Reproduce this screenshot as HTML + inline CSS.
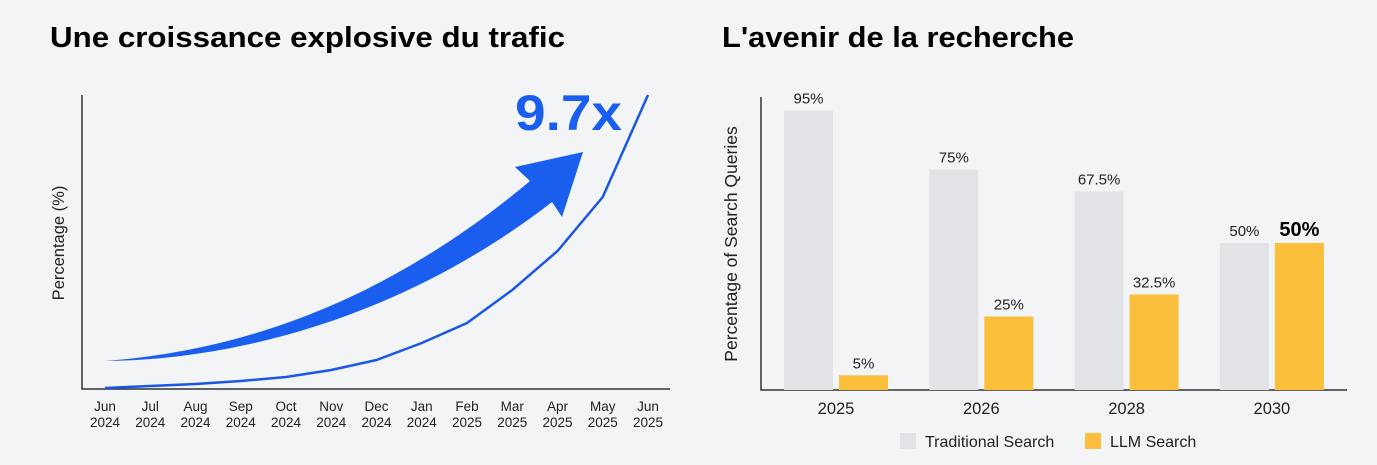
<!DOCTYPE html>
<html><head><meta charset="utf-8"><style>
body{margin:0;background:#f3f4f6;font-family:"Liberation Sans",sans-serif}
svg{display:block}
</style></head><body>
<svg width="1377" height="465" viewBox="0 0 1377 465" xmlns="http://www.w3.org/2000/svg" font-family="Liberation Sans, sans-serif">
<rect width="1377" height="465" fill="#f3f4f6"/>
<text x="50" y="47" font-size="29" font-weight="bold" fill="#000" textLength="515" lengthAdjust="spacingAndGlyphs">Une croissance explosive du trafic</text>
<text x="722" y="47" font-size="29" font-weight="bold" fill="#000" textLength="352" lengthAdjust="spacingAndGlyphs">L'avenir de la recherche</text>
<g id="left"></g>
<g id="right"></g>
</svg>
<script>
const months = ["Jun","Jul","Aug","Sep","Oct","Nov","Dec","Jan","Feb","Mar","Apr","May","Jun"];
const monthYears = ["2024","2024","2024","2024","2024","2024","2024","2024","2025","2025","2025","2025","2025"];
const trafficValues = [1,3,5,8,12,19,29,46,66,99,138,192,294];
const years = ["2025","2026","2028","2030"];
const traditionalValues = [95,75,67.5,50];
const llmValues = [5,25,32.5,50];
const traditionalLabels = ["95%","75%","67.5%","50%"];
const llmLabels = ["5%","25%","32.5%","50%"];

const NS="http://www.w3.org/2000/svg";
function mk(parent,tag,attrs,text){const e=document.createElementNS(NS,tag);for(const k in attrs)e.setAttribute(k,attrs[k]);if(text!==undefined)e.textContent=text;parent.appendChild(e);return e;}

// Left chart
const L=document.getElementById('left');
const lx=i=>105+i*45.25, ly=v=>389-v*(294/294);
let ax=mk(L,'path',{d:'M82 95 V389 H670',stroke:'#333',fill:'none','stroke-width':1.5});


let yl=mk(L,'text',{x:0,y:0,transform:'translate(64,243) rotate(-90)','text-anchor':'middle','font-size':16.5,fill:'#222'},'Percentage (%)');


months.forEach((m,i)=>{
  const t=mk(L,'text',{x:lx(i),y:411,'text-anchor':'middle','font-size':13.5,fill:'#222'});
  
  
  mk(t,'tspan',{x:lx(i),dy:0},m);
  mk(t,'tspan',{x:lx(i),dy:16},monthYears[i]);
});
let pts=trafficValues.map((v,i)=>lx(i)+','+ly(v)).join(' L');
let line=mk(L,'path',{d:'M'+pts,stroke:'#1a56e8','stroke-width':2.5,fill:'none'});


let arrow=mk(L,'path',{d:'M105 361 C220 352 370 315 530 181 L515 167 L583 152 L562 217 L552 202 C400 320 230 360 105 361 Z',fill:'#1a5ef0'});


let big=mk(L,'text',{x:515,y:130,'font-size':50,'font-weight':'bold',fill:'#1a5ef0',textLength:107,lengthAdjust:'spacingAndGlyphs'},'9.7x');



// Right chart
const R=document.getElementById('right');
const by=v=>390-v*2.94, gx=i=>784+i*145.3, bw=49;
let ax2=mk(R,'path',{d:'M761 97 V390 H1347',stroke:'#333',fill:'none','stroke-width':1.5});


let yl2=mk(R,'text',{x:0,y:0,transform:'translate(737,244) rotate(-90)','text-anchor':'middle','font-size':17.5,fill:'#222'},'Percentage of Search Queries');


years.forEach((y,i)=>{
  const x=gx(i);
  const b1=mk(R,'rect',{x:x,y:by(traditionalValues[i]),width:bw,height:390-by(traditionalValues[i]),fill:'#e1e3e6'});
  
  
  const b2=mk(R,'rect',{x:x+55,y:by(llmValues[i]),width:bw,height:390-by(llmValues[i]),fill:'#fbbf3c'});
  
  
  const t1=mk(R,'text',{x:x+bw/2,y:by(traditionalValues[i])-7,'text-anchor':'middle','font-size':15,fill:'#222'},traditionalLabels[i]);
  
  
  const last=i===years.length-1;
  const t2=mk(R,'text',{x:x+55+bw/2,y:by(llmValues[i])-7,'text-anchor':'middle','font-size':last?20:15,'font-weight':last?'bold':'normal',fill:last?'#000':'#222'},llmLabels[i]);
  
  
  const yt=mk(R,'text',{x:x+52,y:414,'text-anchor':'middle','font-size':16.5,fill:'#222'},y);
  
  
});
let lg1=mk(R,'rect',{x:900,y:433,width:16,height:16,fill:'#e1e3e6'});


let lt1=mk(R,'text',{x:925,y:447,'font-size':16,fill:'#222'},'Traditional Search');


let lg2=mk(R,'rect',{x:1085,y:433,width:16,height:16,fill:'#fbbf3c'});


let lt2=mk(R,'text',{x:1110,y:447,'font-size':16,fill:'#222'},'LLM Search');


</script>
</body></html>
